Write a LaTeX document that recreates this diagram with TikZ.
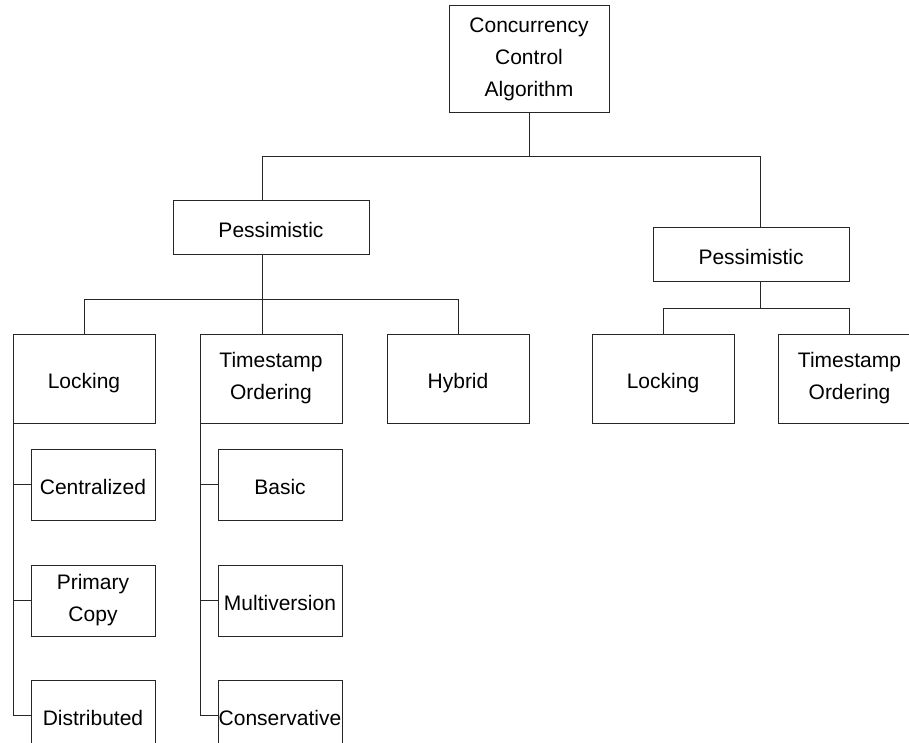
\documentclass[tikz,border=0pt]{standalone}
\usepackage{fontspec}
\setmainfont{Liberation Sans}
\begin{document}
\begin{tikzpicture}[x=1pt, y=-1pt,
  box/.style={draw=black!85, line width=1pt, inner sep=0pt, outer sep=0pt,
    align=center, font=\fontsize{21}{32}\selectfont},
  oneline/.style={text height=20pt, text depth=0pt},
  wide/.style={box, oneline, minimum width=196pt, minimum height=53pt},
  mid/.style={box, minimum width=142pt, minimum height=89pt},
  leaf/.style={box, minimum width=124pt, minimum height=71pt},
  link/.style={draw=black!85, line width=1pt}]
\useasboundingbox (0,0) rectangle (909,743);
\clip (0,0) rectangle (909,743);

% root
\node[box, minimum width=160pt, minimum height=107pt] (root) at (529,59.5)
  {Concurrency\\Control\\Algorithm};

% second level
\node[wide] (lp) at (271,227.5) {Pessimistic};
\node[wide] (rp) at (751,254.5) {Pessimistic};

% third level, left branch
\node[mid, oneline] (lk)  at (84,378.5)  {Locking};
\node[mid] (lts) at (271,378.5) {Timestamp\\Ordering};
\node[mid, oneline] (hy)  at (458,378.5) {Hybrid};

% third level, right branch
\node[mid, oneline] (rlk) at (663,378.5) {Locking};
\node[mid, minimum width=143pt] (rts) at (849.5,378.5) {Timestamp\\Ordering};

% locking variants
\node[leaf, oneline] (cen)  at (93,484.5) {Centralized};
\node[leaf] (pc)   at (93,600.5) {Primary\\Copy};
\node[leaf, oneline] (dist) at (93,715.5) {Distributed};

% timestamp variants
\node[leaf, oneline] (bas)  at (280,484.5) {Basic};
\node[leaf, oneline] (mv)   at (280,600.5) {Multiversion};
\node[leaf, oneline] (cons) at (280,715.5) {Conservative};

% bus junctions
\coordinate (busL) at (262,157);
\coordinate (busR) at (760,157);
\coordinate (busM) at (0,299);
\coordinate (busN) at (0,308);

% root to second level
\draw[link] (root.south) -- (root.south |- busL);
\draw[link] (busL |- lp.north) -- (busL) -- (busR) -- (busR |- rp.north);

% left branch
\draw[link] (busL |- lp.south) -- (busL |- lts.north);
\draw[link] (lk.north) -- (lk.north |- busM) -- (hy.north |- busM) -- (hy.north);

% right branch
\draw[link] (busR |- rp.south) -- (busR |- busN);
\draw[link] (rlk.north) -- (rlk.north |- busN) -- (rts.north |- busN) -- (rts.north);

% locking variants spine
\draw[link] (lk.south west) -- (lk.south west |- dist.west);
\draw[link] (lk.south west |- cen.west) -- (cen.west);
\draw[link] (lk.south west |- pc.west) -- (pc.west);
\draw[link] (lk.south west |- dist.west) -- (dist.west);

% timestamp variants spine
\draw[link] (lts.south west) -- (lts.south west |- cons.west);
\draw[link] (lts.south west |- bas.west) -- (bas.west);
\draw[link] (lts.south west |- mv.west) -- (mv.west);
\draw[link] (lts.south west |- cons.west) -- (cons.west);
\end{tikzpicture}
\end{document}
